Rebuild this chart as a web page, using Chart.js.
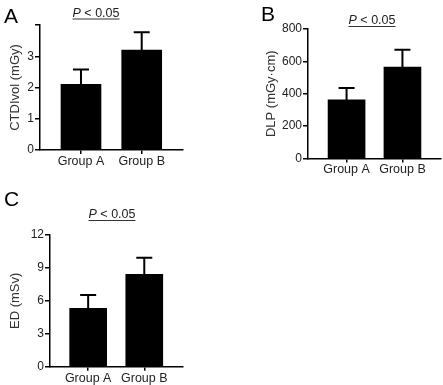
<!DOCTYPE html>
<html lang="en">
<head>
  <meta charset="UTF-8">
  <title>CTDIvol, DLP and ED by group</title>
  <script src="https://cdn.jsdelivr.net/npm/chart.js"></script>
  <style>
    body {
      margin: 0;
      background: #fff;
      font-family: "Liberation Sans", Arial, sans-serif;
    }
    .wrap {
      position: relative;
      width: 443px;
      height: 385px;
    }
    canvas {
      position: absolute;
    }
  </style>
</head>
<body>
  <div class="wrap">
    <canvas id="chartA" width="200" height="190" style="left:0;top:0"></canvas>
    <canvas id="chartB" width="223" height="190" style="left:220px;top:0"></canvas>
    <canvas id="chartC" width="200" height="195" style="left:0;top:190px"></canvas>
  </div>

  <script>
    // data (mean and upper SD)
    const groups = ['Group A', 'Group B'];

    const ctdiMean = [2.1, 3.2];
    const ctdiSD = [0.48, 0.57];
    const ctdiTicks = [0, 1, 2, 3, 4];

    const dlpMean = [362, 565];
    const dlpSD = [73, 107];
    const dlpTicks = [0, 200, 400, 600, 800];

    const edMean = [5.32, 8.42];
    const edSD = [1.21, 1.51];
    const edTicks = [0, 3, 6, 9, 12];

    const pText = 'P < 0.05';

    // error bars, only upper half with cap
    const errorBars = {
      id: 'errorBars',
      afterDatasetsDraw(chart) {
        const ctx = chart.ctx;
        const ds = chart.data.datasets[0];
        const ys = chart.scales.y;
        ctx.save();
        ctx.strokeStyle = '#000';
        ctx.lineWidth = 2;
        chart.getDatasetMeta(0).data.forEach((bar, i) => {
          const top = ys.getPixelForValue(ds.data[i].y + ds.sd[i]);
          ctx.beginPath();
          ctx.moveTo(bar.x, bar.y);
          ctx.lineTo(bar.x, top);
          ctx.moveTo(bar.x - 8, top);
          ctx.lineTo(bar.x + 8, top);
          ctx.stroke();
        });
        ctx.restore();
      }
    };

    // panel letter and significance label
    const panelText = {
      id: 'panelText',
      afterDraw(chart, args, o) {
        const ctx = chart.ctx;
        ctx.save();
        ctx.fillStyle = '#000';
        ctx.textBaseline = 'alphabetic';
        ctx.font = '21px "Liberation Sans", Arial, sans-serif';
        ctx.fillText(o.letter, o.lx, o.ly);

        ctx.font = 'italic 12.5px "Liberation Sans", Arial, sans-serif';
        const wP = ctx.measureText('P').width;
        ctx.font = '12.5px "Liberation Sans", Arial, sans-serif';
        const wRest = ctx.measureText(pText.slice(1)).width;
        const x0 = o.px - (wP + wRest) / 2;
        ctx.fillStyle = '#222';
        ctx.font = 'italic 12.5px "Liberation Sans", Arial, sans-serif';
        ctx.fillText('P', x0, o.py);
        ctx.font = '12.5px "Liberation Sans", Arial, sans-serif';
        ctx.fillText(pText.slice(1), x0 + wP, o.py);
        ctx.strokeStyle = '#333';
        ctx.lineWidth = 1;
        ctx.beginPath();
        ctx.moveTo(x0, o.py + 2.5);
        ctx.lineTo(x0 + wP + wRest, o.py + 2.5);
        ctx.stroke();
        ctx.restore();
      }
    };

    function makePanel(id, means, sds, ticks, title, box) {
      const el = document.getElementById(id);
      new Chart(el, {
        type: 'bar',
        data: {
          datasets: [{
            data: means.map((v, i) => ({ x: i, y: v })),
            sd: sds,
            backgroundColor: '#000',
            borderWidth: 0,
            barThickness: box.barW
          }]
        },
        options: {
          responsive: false,
          animation: false,
          layout: {
            padding: { left: 0, top: box.top, right: el.width - box.right, bottom: 0 }
          },
          plugins: {
            legend: { display: false },
            tooltip: { enabled: false },
            panelText: box.text
          },
          scales: {
            x: {
              type: 'linear',
              offset: false,
              min: box.xmin,
              max: box.xmax,
              afterBuildTicks: s => { s.ticks = groups.map((g, i) => ({ value: i })); },
              afterFit: s => { s.height = el.height - box.bottom; },
              ticks: {
                callback: v => groups[v],
                color: '#222',
                padding: 0,
                maxRotation: 0,
                font: { family: '"Liberation Sans", Arial, sans-serif', size: 12.5 }
              },
              grid: { offset: false, drawOnChartArea: false, tickLength: 4, color: '#000', lineWidth: 1.5 },
              border: { color: '#000', width: 1.5 }
            },
            y: {
              min: ticks[0],
              max: ticks[ticks.length - 1],
              afterBuildTicks: s => { s.ticks = ticks.map(v => ({ value: v })); },
              afterFit: s => { s.width = box.left; },
              ticks: {
                callback: v => (box.hideTop && v === ticks[ticks.length - 1]) ? '' : v,
                color: '#222',
                padding: 1,
                font: { family: '"Liberation Sans", Arial, sans-serif', size: 12 }
              },
              title: {
                display: true,
                text: title,
                color: '#333',
                padding: { top: box.titlePad, bottom: 0 },
                font: { family: '"Liberation Sans", Arial, sans-serif', size: 13 }
              },
              grid: { drawOnChartArea: false, tickLength: 5, color: '#000', lineWidth: 1.5 },
              border: { color: '#000', width: 1.5 }
            }
          }
        },
        plugins: [errorBars, panelText]
      });
    }

    makePanel('chartA', ctdiMean, ctdiSD, ctdiTicks, 'CTDIvol (mGy)', {
      left: 40, right: 183, top: 25, bottom: 150, barW: 40,
      xmin: -0.675, xmax: 1.68, titlePad: 8, hideTop: true,
      text: { letter: 'A', lx: 4, ly: 23, px: 96, py: 16.5 }
    });

    makePanel('chartB', dlpMean, dlpSD, dlpTicks, 'DLP (mGy\u00b7cm)', {
      left: 88, right: 221, top: 29, bottom: 158.5, barW: 37,
      xmin: -0.69, xmax: 1.69, titlePad: 44, hideTop: false,
      text: { letter: 'B', lx: 41, ly: 21, px: 152, py: 24 }
    });

    makePanel('chartC', edMean, edSD, edTicks, 'ED (mSv)', {
      left: 50, right: 183, top: 45, bottom: 176.7, barW: 37,
      xmin: -0.68, xmax: 1.69, titlePad: 8, hideTop: false,
      text: { letter: 'C', lx: 4, ly: 16, px: 112, py: 28 }
    });
  </script>
</body>
</html>
